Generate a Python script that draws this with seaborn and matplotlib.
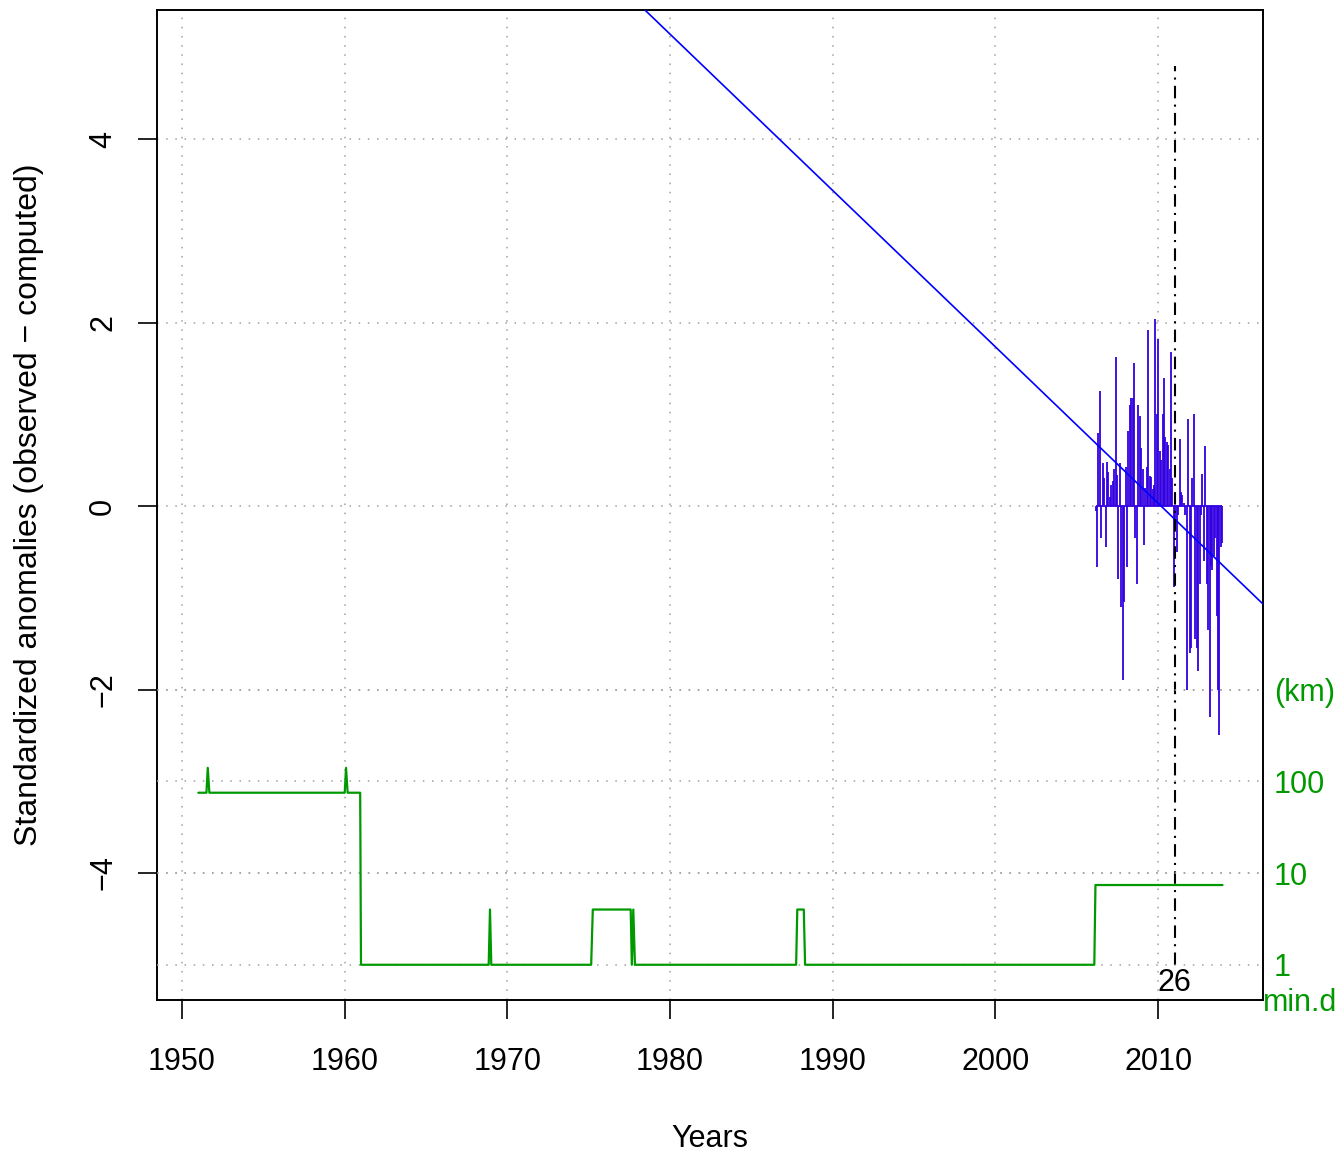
import numpy as np
import pandas as pd
import seaborn as sns
import matplotlib
matplotlib.use('Agg')
import matplotlib.pyplot as plt

# standardized anomalies (observed - computed), roughly monthly 2006-2014
anom_start, anom_end = 2006.16, 2013.95
anomalies = [-0.05, -0.67, 0.80, 1.25, -0.35, 0.47, 0.30, -0.45, 0.48, 0.37,
             0.10, 0.23, 0.27, 0.40, 1.62, 0.34, -0.80, 0.47, -1.10, -1.90,
             -1.05, 0.43, -0.67, 0.82, 1.10, 1.18, 1.18, 1.56, -0.35, -0.85,
             1.10, 0.98, 0.63, 0.40, -0.43, 0.20, 0.42, 1.92, 0.33, 0.32,
             0.18, 0.23, 2.04, 1.00, 1.82, 0.60, 0.50, 1.00, 1.40, 0.75,
             0.70, 0.66, 0.40, 1.68, 0.30, -0.88, -0.17, -0.50, -0.10, 0.73,
             0.15, 0.12, 0.03, -0.10, -2.00, 0.95, -1.60, -1.55, 0.30, 1.00,
             -1.45, -1.55, -1.80, -0.85, -0.10, 0.35, -0.60, 0.65, -0.85, -1.35,
             -2.30, -0.65, -0.70, -0.55, -0.35, -1.20, -2.00, -2.50, -0.45, -0.40]

# linear trend: passes through zero at trend_year0
trend_year0 = 2010.18
trend_slope = -0.1704

# change point
change_year = 2011.03
change_label = '26'

# minimum distance (km) of the nearest station
mind_years = [1951.0, 1951.5, 1951.58, 1951.68, 1960.0, 1960.08, 1960.18, 1960.95, 1961.0,
              1968.85, 1968.93, 1969.01, 1975.15, 1975.25, 1977.58, 1977.65, 1977.74, 1977.84,
              1987.75, 1987.82, 1988.22, 1988.3, 2006.08, 2006.15, 2013.96]
mind_km = [75, 75, 140, 75, 75, 140, 75, 75, 1,
           1, 4, 1, 1, 4, 4, 1, 4, 1,
           1, 4, 4, 1, 1, 7.4, 7.4]

x_ticks = [1950, 1960, 1970, 1980, 1990, 2000, 2010]
y_ticks = [-4, -2, 0, 2, 4]
km_ticks = [1, 10, 100, 1000]
km_labels = ['1', '10', '100', '(km)']

anom = pd.DataFrame({'year': np.linspace(anom_start, anom_end, len(anomalies)),
                     'value': anomalies})
mind = pd.DataFrame({'year': mind_years, 'km': mind_km})

sns.set_theme(style='white')
plt.rcParams['font.family'] = ['Liberation Sans', 'DejaVu Sans']
plt.rcParams['text.color'] = 'black'
plt.rcParams['axes.labelcolor'] = 'black'

bar_col = '#3300E0'
green = '#009900'
grid_kw = dict(color='#A0A0A0', lw=1.1, linestyle=(0, (1, 5)))

fig = plt.figure(figsize=(13.44, 11.52), dpi=100)
ax = fig.add_axes([157/1344, 1 - 1000/1152, (1263-157)/1344, 990/1152])
xlim = (1948.46, 2016.45)
ylim = (-5.384, 5.406)
ax.set_xlim(xlim)
ax.set_ylim(ylim)

for xt in x_ticks:
    ax.axvline(xt, **grid_kw, zorder=0)
for yt in y_ticks:
    ax.axhline(yt, **grid_kw, zorder=0)

# anomalies as vertical bars
ax.vlines(anom['year'], 0, anom['value'], color=bar_col, lw=1.3, zorder=2)
ax.hlines(0, anom['year'].iloc[0], anom['year'].iloc[-1], color=bar_col, lw=1.3, zorder=2)

ax.axline((trend_year0, 0), slope=trend_slope, color='#0000FF', lw=1.2, zorder=3)

ax.vlines(change_year, -5, 4.8, color='black', lw=1.5, linestyles=(0, (6, 3, 1, 3)), zorder=4)
ax.text(change_year, -5.04, change_label, ha='center', va='top', fontsize=22, color='black')

ax.set_xticks(x_ticks)
ax.set_yticks(y_ticks)
ax.set_yticklabels([str(v).replace('-', '\u2212') for v in y_ticks], rotation=90, va='center')
ax.tick_params(axis='both', which='major', direction='out', length=14, width=1.2,
               labelsize=22, color='black', labelcolor='black',
               bottom=True, left=True)
ax.tick_params(axis='x', pad=20)
ax.tick_params(axis='y', pad=14)
ax.set_xlabel('Years', fontsize=22, labelpad=34)
ax.set_ylabel('Standardized anomalies (observed \u2212 computed)', fontsize=23, labelpad=32)
for s in ax.spines.values():
    s.set_color('black')
    s.set_linewidth(1.4)

# min distance on log scale, right side
ax2 = ax.twinx()
ax2.set_yscale('log')
ax2.set_ylim(10 ** (ylim[0] + 5), 10 ** (ylim[1] + 5))
for kt in km_ticks:
    ax2.axhline(kt, **grid_kw, zorder=0)
sns.lineplot(data=mind, x='year', y='km', ax=ax2, color=green, lw=1.6, sort=False,
             estimator=None)
ax2.set_xlim(xlim)
ax2.set_yticks(km_ticks)
ax2.set_yticklabels(km_labels)
ax2.minorticks_off()
ax2.tick_params(axis='y', length=0, labelsize=22, labelcolor=green, pad=8, right=True)
ax2.set_ylabel('')
ax2.set_xlabel('')
ax2.text(1.0, -0.003, 'min.d', transform=ax2.transAxes, ha='left', va='center',
         fontsize=22, color=green, clip_on=False)
for s in ax2.spines.values():
    s.set_visible(False)

fig.savefig('out.png', dpi=100)
